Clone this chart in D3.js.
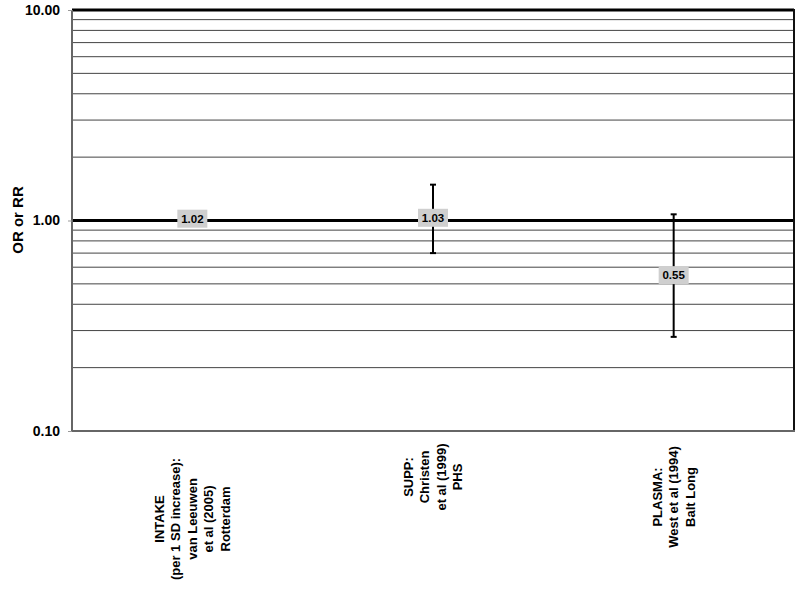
<!DOCTYPE html>
<html>
<head>
<meta charset="utf-8">
<script src="https://cdn.jsdelivr.net/npm/d3@7"></script>
<style>
body { margin: 0; background: #fff; }
text { font-family: "Liberation Sans", Arial, sans-serif; font-weight: bold; }
</style>
</head>
<body>
<script>
// data
const categories = [
  ['INTAKE', '(per 1 SD increase):', 'van Leeuwen', 'et al (2005)', 'Rotterdam'],
  ['SUPP:', 'Christen', 'et al (1999)', 'PHS'],
  ['PLASMA:', 'West et al (1994)', 'Balt Long']
];
const estimates = [1.02, 1.03, 0.55];
const lower = [null, 0.70, 0.28];
const upper = [null, 1.48, 1.07];
const labelCenters = [519, 477, 497]; // vertical middle of the rotated labels
const yTicks = [0.1, 1, 10];
const gridValues = [0.2, 0.3, 0.4, 0.5, 0.6, 0.7, 0.8, 0.9, 2, 3, 4, 5, 6, 7, 8, 9];

const svg = d3.select('body').append('svg').attr('width', 800).attr('height', 589);

const mLeft = 72, mRight = 794, mTop = 10, mBottom = 431;

const x = d3.scaleBand().domain(d3.range(categories.length)).range([mLeft, mRight]);
const y = d3.scaleLog().domain([0.1, 10]).range([mBottom, mTop]);

// grid
svg.append('g').selectAll('line').data(gridValues).join('line')
  .attr('x1', mLeft).attr('x2', mRight)
  .attr('y1', d => y(d)).attr('y2', d => y(d))
  .style('stroke', '#444').style('stroke-width', 1);

// heavy lines at 1 and 10
svg.append('g').selectAll('line').data([1, 10]).join('line')
  .attr('x1', mLeft).attr('x2', mRight)
  .attr('y1', d => y(d)).attr('y2', d => y(d))
  .style('stroke', '#000').style('stroke-width', 3);

// frame
svg.append('line').attr('x1', mRight).attr('x2', mRight).attr('y1', mTop - 1).attr('y2', mBottom)
  .style('stroke', '#111').style('stroke-width', 2);
svg.append('line').attr('x1', mLeft).attr('x2', mLeft).attr('y1', mTop).attr('y2', mBottom + 1)
  .style('stroke', '#666').style('stroke-width', 2);
svg.append('line').attr('x1', mLeft).attr('x2', mRight + 1).attr('y1', mBottom).attr('y2', mBottom)
  .style('stroke', '#666').style('stroke-width', 2);

// y axis
const yAxis = svg.append('g').attr('transform', `translate(${mLeft},0)`)
  .call(d3.axisLeft(y).tickValues(yTicks).tickFormat(d3.format('.2f')).tickSize(4).tickPadding(8));
yAxis.select('.domain').remove();
yAxis.selectAll('line').style('stroke', '#999');
yAxis.selectAll('text').style('font-size', '14px').style('fill', '#000');

svg.append('text')
  .attr('transform', 'translate(23,220) rotate(-90)')
  .attr('text-anchor', 'middle')
  .style('font-size', '15px')
  .text('OR or RR');

// error bars
const cx = i => x(i) + x.bandwidth() / 2;
const bars = svg.append('g');
estimates.forEach((v, i) => {
  if (lower[i] == null) return;
  bars.append('line').attr('x1', cx(i)).attr('x2', cx(i))
    .attr('y1', y(upper[i])).attr('y2', y(lower[i]))
    .style('stroke', '#000').style('stroke-width', 2);
  [upper[i], lower[i]].forEach(c => {
    bars.append('line').attr('x1', cx(i) - 3).attr('x2', cx(i) + 3)
      .attr('y1', y(c)).attr('y2', y(c))
      .style('stroke', '#000').style('stroke-width', 2);
  });
});

// value labels
const lab = svg.append('g').selectAll('g').data(estimates).join('g')
  .attr('transform', (d, i) => `translate(${cx(i)},${y(d)})`);
lab.append('rect').attr('x', -15).attr('y', -9).attr('width', 30).attr('height', 18)
  .style('fill', '#cfcfcf');
lab.append('text').attr('text-anchor', 'middle').attr('dy', '0.36em')
  .style('font-size', '11.5px')
  .text(d => d3.format('.2f')(d));

// category labels
categories.forEach((lines, i) => {
  const n = lines.length;
  const t = svg.append('text')
    .attr('transform', `translate(${cx(i) - (n - 1) / 2 * 16.5 + 4.5},${labelCenters[i]}) rotate(-90)`)
    .attr('text-anchor', 'middle')
    .style('font-size', '13px');
  lines.forEach((s, k) => {
    t.append('tspan').attr('x', 0).attr('y', k * 16.5).text(s);
  });
});
</script>
</body>
</html>
